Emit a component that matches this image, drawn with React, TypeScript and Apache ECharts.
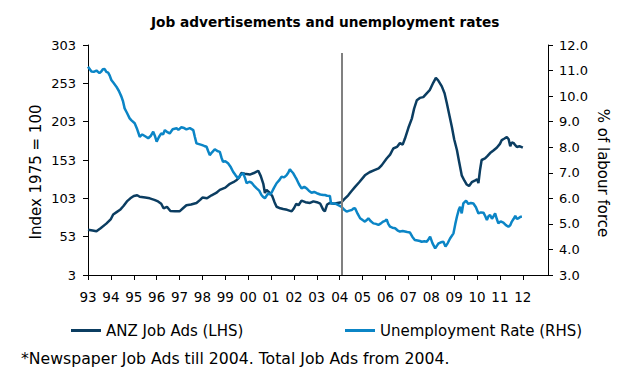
import React, { useEffect, useRef } from "react";
import * as echarts from "echarts";

const titleText = "Job advertisements and unemployment rates";
const anzName = "ANZ Job Ads (LHS)";
const unempName = "Unemployment Rate (RHS)";
const footnote = "*Newspaper Job Ads till 2004. Total Job Ads from 2004.";
const leftAxisName = "Index 1975 = 100";
const rightAxisName = "% of labour force";

const yearTicks = [1993, 1994, 1995, 1996, 1997, 1998, 1999, 2000, 2001, 2002, 2003, 2004, 2005, 2006, 2007, 2008, 2009, 2010, 2011, 2012];
const breakYear = 2004.08;

const anzYears = [
  1993.0, 1993.2, 1993.37, 1993.55, 1993.8, 1994.0, 1994.1, 1994.25, 1994.4, 1994.55, 1994.7, 1994.85,
  1995.0, 1995.15, 1995.26, 1995.5, 1995.7, 1995.9, 1996.06, 1996.2, 1996.3, 1996.45, 1996.6, 1996.8,
  1997.0, 1997.15, 1997.3, 1997.5, 1997.74, 1997.9, 1998.0, 1998.2, 1998.4, 1998.6, 1998.76, 1999.0,
  1999.2, 1999.35, 1999.5, 1999.6, 1999.7, 1999.85, 2000.07, 2000.25, 2000.44, 2000.55, 2000.66, 2000.73,
  2000.8, 2000.95, 2001.05, 2001.15, 2001.24, 2001.4, 2001.53, 2001.7, 2001.9, 2002.0, 2002.1, 2002.2,
  2002.33, 2002.5, 2002.7, 2002.85, 2003.0, 2003.15, 2003.28, 2003.35, 2003.45, 2003.57, 2003.75, 2003.9,
  2004.08, 2004.2, 2004.37, 2004.5, 2004.67, 2004.85, 2005.1, 2005.3, 2005.54, 2005.7, 2005.83, 2006.05,
  2006.2, 2006.34, 2006.5, 2006.63, 2006.75, 2006.85, 2007.0, 2007.15, 2007.25, 2007.37, 2007.5, 2007.65,
  2007.8, 2007.93, 2008.09, 2008.2, 2008.3, 2008.46, 2008.58, 2008.68, 2008.8, 2008.9, 2009.0, 2009.12,
  2009.22, 2009.33, 2009.45, 2009.55, 2009.65, 2009.77, 2009.9, 2010.0, 2010.06, 2010.13, 2010.2, 2010.35,
  2010.45, 2010.57, 2010.7, 2010.86, 2011.0, 2011.08, 2011.2, 2011.3, 2011.38, 2011.45, 2011.52, 2011.6,
  2011.68, 2011.74, 2011.85, 2012.0,
];
const anzValues = [
  62, 61, 60, 64, 70, 76, 82, 85, 88, 93, 99, 103,
  106, 107, 105, 104, 103, 101, 99, 96, 90, 92, 86.5, 86,
  86, 90, 94, 95, 97, 101, 104, 103, 107, 110, 114, 117,
  122, 124, 127, 130, 136, 135, 134, 136, 139, 132, 122, 110,
  114, 110, 106, 98, 92, 90, 89, 88, 86, 90, 96, 94,
  100, 98, 97, 99, 98, 96, 88, 86, 95, 97, 96, 97,
  98, 102, 107, 112, 118, 124, 133, 137, 140, 142, 146, 155,
  160, 168, 170, 175, 173, 181, 195, 207, 220, 231, 234, 235,
  240, 244, 254, 260, 257, 249, 240, 227, 210, 196, 180, 166,
  150, 133, 126, 121, 119, 124, 126, 128, 123, 140, 153, 155,
  158, 162, 165, 169, 174, 179, 181, 183, 180, 171, 176, 175,
  172, 170, 171, 169,
];

const unempYears = [
  1993.0, 1993.08, 1993.15, 1993.25, 1993.37, 1993.5, 1993.58, 1993.65, 1993.73, 1993.8, 1993.88, 1993.95,
  1994.02, 1994.13, 1994.24, 1994.35, 1994.46, 1994.53, 1994.6, 1994.7, 1994.82, 1994.9, 1995.04, 1995.15,
  1995.26, 1995.37, 1995.48, 1995.55, 1995.63, 1995.75, 1995.85, 1995.92, 1996.0, 1996.1, 1996.2, 1996.28,
  1996.36, 1996.45, 1996.57, 1996.7, 1996.87, 1996.95, 1997.08, 1997.2, 1997.3, 1997.45, 1997.6, 1997.67,
  1997.74, 1997.85, 1997.96, 1998.08, 1998.18, 1998.25, 1998.32, 1998.42, 1998.54, 1998.65, 1998.76, 1998.83,
  1998.9, 1999.0, 1999.12, 1999.22, 1999.34, 1999.45, 1999.56, 1999.66, 1999.78, 1999.86, 1999.93, 2000.05,
  2000.15, 2000.25, 2000.37, 2000.48, 2000.58, 2000.66, 2000.73, 2000.8, 2000.88, 2000.95, 2001.02, 2001.12,
  2001.24, 2001.35, 2001.46, 2001.57, 2001.68, 2001.75, 2001.82, 2001.9, 2001.97, 2002.05, 2002.12, 2002.22,
  2002.33, 2002.45, 2002.55, 2002.65, 2002.77, 2002.88, 2003.0, 2003.15, 2003.28, 2003.35, 2003.45, 2003.57,
  2003.62, 2003.78, 2003.9, 2004.08, 2004.2, 2004.3, 2004.42, 2004.52, 2004.6, 2004.67, 2004.78, 2004.89,
  2005.0, 2005.1, 2005.18, 2005.25, 2005.36, 2005.47, 2005.58, 2005.69, 2005.8, 2005.9, 2005.98, 2006.05,
  2006.12, 2006.2, 2006.3, 2006.42, 2006.52, 2006.63, 2006.75, 2006.85, 2006.95, 2007.07, 2007.17, 2007.28,
  2007.4, 2007.5, 2007.58, 2007.7, 2007.8, 2007.88, 2007.95, 2008.05, 2008.17, 2008.25, 2008.32, 2008.42,
  2008.53, 2008.62, 2008.72, 2008.82, 2008.97, 2009.05, 2009.12, 2009.2, 2009.26, 2009.33, 2009.4, 2009.52,
  2009.62, 2009.73, 2009.84, 2009.95, 2010.06, 2010.17, 2010.28, 2010.36, 2010.43, 2010.5, 2010.57, 2010.65,
  2010.72, 2010.79, 2010.86, 2010.93, 2011.03, 2011.15, 2011.26, 2011.37, 2011.45, 2011.52, 2011.6, 2011.67,
  2011.74, 2011.81, 2011.9, 2011.96,
];
const unempValues = [
  11.15, 11.05, 10.96, 10.95, 11.0, 10.9, 10.96, 11.05, 11.06, 10.95, 10.92, 10.8,
  10.63, 10.5, 10.37, 10.2, 9.98, 9.8, 9.52, 9.35, 9.13, 9.05, 8.94, 8.7,
  8.41, 8.5, 8.44, 8.4, 8.35, 8.45, 8.61, 8.45, 8.22, 8.4, 8.54, 8.5,
  8.67, 8.6, 8.54, 8.7, 8.74, 8.68, 8.78, 8.75, 8.7, 8.75, 8.67, 8.4,
  8.15, 8.12, 8.09, 8.05, 8.02, 7.85, 7.69, 7.8, 7.92, 7.85, 7.82, 7.6,
  7.43, 7.45, 7.37, 7.25, 7.04, 6.9, 6.78, 6.9, 6.98, 6.8, 6.59, 6.65,
  6.61, 6.5, 6.39, 6.3, 6.13, 6.05, 6.0, 6.1, 6.2, 6.15, 6.22, 6.4,
  6.59, 6.7, 6.85, 6.82, 6.91, 7.0, 7.14, 7.05, 6.98, 6.85, 6.74, 6.55,
  6.39, 6.45, 6.39, 6.3, 6.22, 6.25, 6.2, 6.15, 6.13, 6.13, 6.1, 6.09,
  5.8, 5.8, 5.75, 5.67, 5.55, 5.48, 5.52, 5.54, 5.6, 5.61, 5.4, 5.22,
  5.15, 5.09, 5.15, 5.22, 5.1, 5.02, 5.0, 4.96, 5.02, 5.09, 5.12, 5.18,
  5.0, 4.89, 4.85, 4.83, 4.75, 4.7, 4.72, 4.7, 4.68, 4.66, 4.5, 4.37,
  4.35, 4.33, 4.3, 4.32, 4.3, 4.4, 4.5, 4.25, 4.04, 4.15, 4.24, 4.28,
  4.3, 4.11, 4.25, 4.43, 4.63, 5.0, 5.28, 5.55, 5.67, 5.41, 5.8, 5.91,
  5.78, 5.82, 5.8, 5.65, 5.41, 5.45, 5.44, 5.3, 5.15, 5.3, 5.35, 5.2,
  5.3, 5.41, 5.2, 5.02, 5.1, 5.05, 4.95, 4.89, 4.95, 5.09, 5.2, 5.31,
  5.2, 5.22, 5.28, 5.28,
];

const FONT = 'Verdana, "DejaVu Sans", sans-serif';
const DARK = "#0b3d61";
const LIGHT = "#0b85c6";

export default function App() {
  const ref = useRef<HTMLDivElement>(null);
  useEffect(() => {
    if (!ref.current) return;
    const chart = echarts.init(ref.current, null, { renderer: "svg" });
    const anzData = anzYears.map((y, i) => [y, anzValues[i]]);
    const unempData = unempYears.map((y, i) => [y, unempValues[i]]);
    chart.setOption({
      animation: false,
      backgroundColor: "#ffffff",
      textStyle: { fontFamily: FONT },
      title: {
        text: titleText,
        left: 146,
        top: 10,
        textStyle: { fontFamily: FONT, fontSize: 13.7, fontWeight: "bold", color: "#000" },
      },
      grid: { left: 88, right: 74, top: 45, bottom: 102, containLabel: false },
      legend: [
        {
          data: [anzName],
          left: 66,
          top: 318,
          icon: "rect",
          itemWidth: 30,
          itemHeight: 3,
          textStyle: { fontFamily: FONT, fontSize: 15, color: "#000" },
        },
        {
          data: [unempName],
          left: 340,
          top: 318,
          icon: "rect",
          itemWidth: 30,
          itemHeight: 3,
          textStyle: { fontFamily: FONT, fontSize: 15, color: "#000" },
        },
      ],
      xAxis: {
        type: "value",
        min: 1993,
        max: 2013.1,
        splitLine: { show: false },
        axisLine: { show: true, onZero: false, lineStyle: { color: "#000", width: 1 } },
        axisTick: { show: true, length: 5, customValues: yearTicks, lineStyle: { color: "#000" } },
        axisLabel: {
          customValues: yearTicks,
          margin: 15,
          fontSize: 13.5,
          color: "#000",
          fontFamily: FONT,
          formatter: (v: number) => String(Math.round(v) % 100).padStart(2, "0"),
        },
      },
      yAxis: [
        {
          type: "value",
          min: 3,
          max: 303,
          interval: 50,
          position: "left",
          splitLine: { show: false },
          axisLine: { show: true, lineStyle: { color: "#000", width: 1 } },
          axisTick: { show: true, length: 5, lineStyle: { color: "#000" } },
          axisLabel: { margin: 12, fontSize: 13, color: "#000", fontFamily: FONT },
        },
        {
          type: "value",
          min: 3,
          max: 12,
          interval: 1,
          position: "right",
          splitLine: { show: false },
          axisLine: { show: true, lineStyle: { color: "#000", width: 1 } },
          axisTick: { show: true, length: 5, lineStyle: { color: "#000" } },
          axisLabel: {
            margin: 11,
            fontSize: 13,
            color: "#000",
            fontFamily: FONT,
            formatter: (v: number) => v.toFixed(1),
          },
        },
      ],
      graphic: [
        {
          type: "text",
          x: 36,
          y: 172,
          rotation: Math.PI / 2,
          style: {
            text: leftAxisName,
            fontFamily: FONT,
            fontSize: 15,
            fill: "#000",
            align: "center",
            verticalAlign: "middle",
          },
        },
        {
          type: "text",
          x: 603,
          y: 173,
          rotation: -Math.PI / 2,
          style: {
            text: rightAxisName,
            fontFamily: FONT,
            fontSize: 15,
            fill: "#000",
            align: "center",
            verticalAlign: "middle",
          },
        },
        {
          type: "text",
          left: 21,
          top: 350,
          style: { text: footnote, fontFamily: FONT, fontSize: 15.7, fill: "#000" },
        },
      ],
      series: [
        {
          name: anzName,
          type: "line",
          yAxisIndex: 0,
          data: anzData,
          showSymbol: false,
          symbol: "none",
          color: DARK,
          lineStyle: { color: DARK, width: 2.5 },
          markLine: {
            silent: true,
            symbol: "none",
            label: { show: false },
            lineStyle: { color: "#808080", width: 2, type: "solid" },
            data: [[{ coord: [breakYear, 3] }, { coord: [breakYear, 292.5] }]],
          },
          z: 2,
        },
        {
          name: unempName,
          type: "line",
          yAxisIndex: 1,
          data: unempData,
          showSymbol: false,
          symbol: "none",
          color: LIGHT,
          lineStyle: { color: LIGHT, width: 2.5 },
          z: 3,
        },
      ],
    });
    return () => chart.dispose();
  }, []);
  return (
    <div
      ref={ref}
      style={{ position: "fixed", left: 0, top: 0, width: 622, height: 377 }}
    />
  );
}
